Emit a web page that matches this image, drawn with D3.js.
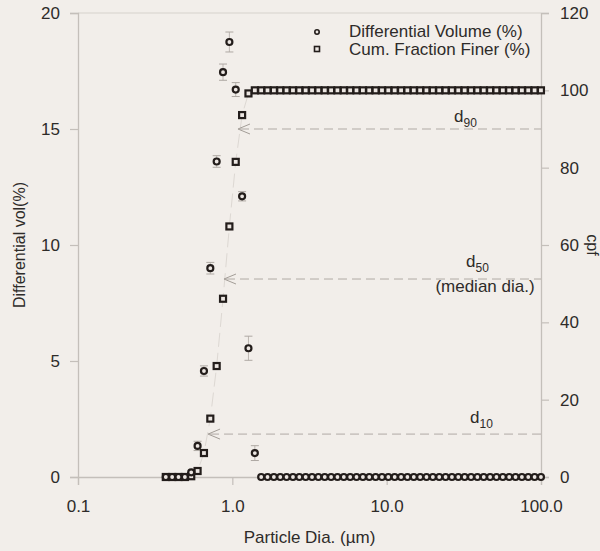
<!DOCTYPE html>
<html>
<head>
<meta charset="utf-8">
<script src="https://cdn.jsdelivr.net/npm/d3@7"></script>
<style>
  body { margin: 0; background: #f2eeea; }
  svg text { font-family: "Liberation Sans", Arial, sans-serif; fill: #2e2b29; }
</style>
</head>
<body>
<div id="chart"></div>
<script>
// Particle size bins (um)
var sizes = [0.3706, 0.4074, 0.4479, 0.4926, 0.5416, 0.5955, 0.6548, 0.7200, 0.7916, 0.8704,
    0.9570, 1.052, 1.157, 1.272, 1.399, 1.538, 1.691, 1.859, 2.044, 2.247,
    2.471, 2.717, 2.987, 3.284, 3.611, 3.970, 4.365, 4.800, 5.277, 5.802,
    6.380, 7.015, 7.713, 8.481, 9.326, 10.25, 11.27, 12.40, 13.63, 14.99,
    16.48, 18.12, 19.92, 21.91, 24.09, 26.48, 29.12, 32.02, 35.21, 38.71,
    42.56, 46.80, 51.45, 56.58, 62.21, 68.40, 75.21, 82.69, 90.92, 99.93];

// Differential volume (%)
var diffVol = [0, 0, 0, 0, 0.2, 1.34, 4.57, 9.0, 13.6, 17.45,
    18.75, 16.7, 12.1, 5.55, 1.03, 0, 0, 0, 0, 0,
    0, 0, 0, 0, 0, 0, 0, 0, 0, 0,
    0, 0, 0, 0, 0, 0, 0, 0, 0, 0,
    0, 0, 0, 0, 0, 0, 0, 0, 0, 0,
    0, 0, 0, 0, 0, 0, 0, 0, 0, 0];

// Error on differential volume (%)
var diffErr = [0, 0, 0, 0, 0, 0.2, 0.22, 0.25, 0.25, 0.35,
    0.43, 0.3, 0.2, 0.52, 0.32, 0, 0, 0, 0, 0,
    0, 0, 0, 0, 0, 0, 0, 0, 0, 0,
    0, 0, 0, 0, 0, 0, 0, 0, 0, 0,
    0, 0, 0, 0, 0, 0, 0, 0, 0, 0,
    0, 0, 0, 0, 0, 0, 0, 0, 0, 0];

// Cumulative fraction finer (%)
var cpf = [0, 0, 0, 0, 0.2, 1.55, 6.2, 15.1, 28.7, 46.1,
    64.8, 81.5, 93.6, 99.2, 100, 100, 100, 100, 100, 100,
    100, 100, 100, 100, 100, 100, 100, 100, 100, 100,
    100, 100, 100, 100, 100, 100, 100, 100, 100, 100,
    100, 100, 100, 100, 100, 100, 100, 100, 100, 100,
    100, 100, 100, 100, 100, 100, 100, 100, 100, 100];

// d10 / d50 / d90 markers
var dLabels = ["10", "50", "90"];
var dSizes = [0.696, 0.883, 1.088];
var dCpf = [11.1, 51.2, 90];

var xTicks = [0.1, 1, 10, 100];
var yLeftTicks = [0, 5, 10, 15, 20];
var yRightTicks = [0, 20, 40, 60, 80, 100, 120];

var svgWidth = 600;
var svgHeight = 551;

var margin = { top: 13, bottom: 74, left: 78, right: 59 };
var width = svgWidth - margin.left - margin.right;
var height = svgHeight - margin.top - margin.bottom;

var svg = d3.select("#chart")
    .append("svg")
    .attr("width", svgWidth)
    .attr("height", svgHeight);

svg.append("rect")
    .attr("width", svgWidth)
    .attr("height", svgHeight)
    .attr("fill", "#f2eeea");

var chartGroup = svg.append("g")
    .attr("transform", `translate(${margin.left}, ${margin.top})`);

var xScale = d3.scaleLog().domain([0.1, 100]).range([0, width]);
var yLeft = d3.scaleLinear().domain([0, 20]).range([height, 0]);
var yRight = d3.scaleLinear().domain([0, 120]).range([height, 0]);

var axisColor = "#c4bfba";

// top frame line
chartGroup.append("line")
    .attr("x1", 0).attr("x2", width)
    .attr("y1", 0).attr("y2", 0)
    .attr("stroke", "#d6d1cc")
    .attr("stroke-width", 1.2);

// axes
var xAxis = chartGroup.append("g")
    .attr("transform", `translate(0, ${height})`)
    .call(d3.axisBottom(xScale).tickValues(xTicks).tickSize(8).tickPadding(15)
        .tickFormat(d3.format(".1f")));

var leftAxis = chartGroup.append("g")
    .call(d3.axisLeft(yLeft).tickValues(yLeftTicks).tickSize(8).tickPadding(10));

var rightAxis = chartGroup.append("g")
    .attr("transform", `translate(${width}, 0)`)
    .call(d3.axisRight(yRight).tickValues(yRightTicks).tickSize(8).tickPadding(11));

[xAxis, leftAxis, rightAxis].forEach(function(a) {
    a.select(".domain").attr("stroke", axisColor).attr("stroke-width", 1.3);
    a.selectAll(".tick line").attr("stroke", axisColor).attr("stroke-width", 1.2);
    a.selectAll(".tick text")
        .style("font-size", "17px")
        .style("font-family", "'Liberation Sans', Arial, sans-serif")
        .attr("fill", "#2e2b29");
});

// very faint line through cpf points
chartGroup.append("path")
    .datum(sizes.map((s, i) => [s, cpf[i]]))
    .attr("fill", "none")
    .attr("stroke", "#ddd8d3")
    .attr("stroke-width", 1)
    .attr("stroke-dasharray", "14,6")
    .attr("d", d3.line().x(d => xScale(d[0])).y(d => yRight(d[1])));

// d annotations: dashed lines with open arrowheads
dLabels.forEach(function(lab, i) {
    var tx = xScale(dSizes[i]);
    var ty = yRight(dCpf[i]);
    chartGroup.append("line")
        .attr("x1", tx + 2).attr("x2", width)
        .attr("y1", ty).attr("y2", ty)
        .attr("stroke", "#b0aaa5")
        .attr("stroke-width", 1)
        .attr("stroke-dasharray", "9,5");
    chartGroup.append("path")
        .attr("d", `M${tx + 12},${ty - 5}L${tx},${ty}L${tx + 12},${ty + 5}`)
        .attr("fill", "none")
        .attr("stroke", "#a39d97")
        .attr("stroke-width", 1);
});

// d labels
var dLabelPos = [[392, 410], [388, 254], [376, 109]];
dLabels.forEach(function(lab, i) {
    var t = chartGroup.append("text")
        .attr("x", dLabelPos[i][0])
        .attr("y", dLabelPos[i][1])
        .style("font-size", "17px");
    t.append("tspan").text("d");
    t.append("tspan").attr("dy", 5).style("font-size", "12px").text(lab);
});

chartGroup.append("text")
    .attr("x", 407)
    .attr("y", 279)
    .attr("text-anchor", "middle")
    .style("font-size", "17px")
    .text("(median dia.)");

// error bars for differential volume
var errData = sizes.map((s, i) => ({ s: s, v: diffVol[i], e: diffErr[i] })).filter(d => d.e > 0);
var errColor = "#aea8a3";
var errG = chartGroup.append("g");
errG.selectAll(".ev")
    .data(errData)
    .enter()
    .append("line")
    .attr("x1", d => xScale(d.s)).attr("x2", d => xScale(d.s))
    .attr("y1", d => yLeft(d.v + d.e)).attr("y2", d => yLeft(d.v - d.e))
    .attr("stroke", errColor)
    .attr("stroke-width", 0.8);
errG.selectAll(".et")
    .data(errData)
    .enter()
    .append("line")
    .attr("x1", d => xScale(d.s) - 4).attr("x2", d => xScale(d.s) + 4)
    .attr("y1", d => yLeft(d.v + d.e)).attr("y2", d => yLeft(d.v + d.e))
    .attr("stroke", errColor)
    .attr("stroke-width", 1);
errG.selectAll(".eb")
    .data(errData)
    .enter()
    .append("line")
    .attr("x1", d => xScale(d.s) - 4).attr("x2", d => xScale(d.s) + 4)
    .attr("y1", d => yLeft(d.v - d.e)).attr("y2", d => yLeft(d.v - d.e))
    .attr("stroke", errColor)
    .attr("stroke-width", 1);

var markColor = "#231d1b";
var markFill = "#ece6e2";

// cpf squares
chartGroup.selectAll(".sq")
    .data(sizes.map((s, i) => [s, cpf[i]]))
    .enter()
    .append("rect")
    .attr("x", d => xScale(d[0]) - 3)
    .attr("y", d => yRight(d[1]) - 3)
    .attr("width", 6)
    .attr("height", 6)
    .attr("fill", markFill)
    .attr("stroke", markColor)
    .attr("stroke-width", 2.2);

// differential volume circles
chartGroup.selectAll(".ci")
    .data(sizes.map((s, i) => [s, diffVol[i]]))
    .enter()
    .append("circle")
    .attr("cx", d => xScale(d[0]))
    .attr("cy", d => yLeft(d[1]))
    .attr("r", 3)
    .attr("fill", markFill)
    .attr("stroke", markColor)
    .attr("stroke-width", 2.2);

// legend
var legend = svg.append("g");
legend.append("circle")
    .attr("cx", 317).attr("cy", 32).attr("r", 2.2)
    .attr("fill", markFill).attr("stroke", markColor).attr("stroke-width", 1.6);
legend.append("rect")
    .attr("x", 314.5).attr("y", 46.5).attr("width", 5).attr("height", 5)
    .attr("fill", markFill).attr("stroke", markColor).attr("stroke-width", 1.6);
legend.append("text")
    .attr("x", 349).attr("y", 37)
    .style("font-size", "17px")
    .text("Differential Volume (%)");
legend.append("text")
    .attr("x", 349).attr("y", 55)
    .style("font-size", "17px")
    .text("Cum. Fraction Finer (%)");

// axis titles
svg.append("text")
    .attr("transform", `translate(25, ${margin.top + height / 2}) rotate(-90)`)
    .attr("text-anchor", "middle")
    .style("font-size", "16px")
    .text("Differential vol(%)");

svg.append("text")
    .attr("transform", `translate(587, ${margin.top + height / 2}) rotate(90)`)
    .attr("text-anchor", "middle")
    .style("font-size", "16px")
    .text("cpf");

svg.append("text")
    .attr("x", margin.left + width / 2)
    .attr("y", 543)
    .attr("text-anchor", "middle")
    .style("font-size", "17px")
    .text("Particle Dia. (\u00b5m)");
</script>
</body>
</html>
